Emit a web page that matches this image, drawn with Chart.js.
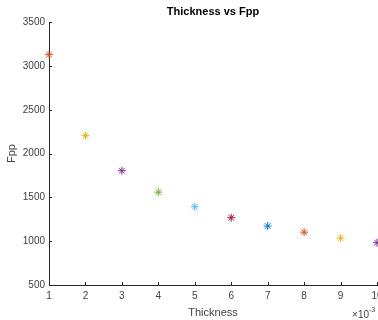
<!DOCTYPE html>
<html>
<head>
<meta charset="utf-8">
<script src="https://cdn.jsdelivr.net/npm/chart.js@4/dist/chart.umd.min.js"></script>
<style>
    body { margin: 0; background: #ffffff; }
    #wrap { width: 378px; height: 320px; }
</style>
</head>
<body>
<div id="wrap"><canvas id="fppChart" width="378" height="320"></canvas></div>
<script>
// Dati (spessore in unità di 1e-3)
const thickness = [1, 2, 3, 4, 5, 6, 7, 8, 9, 10];
const fpp = [3130, 2205, 1805, 1560, 1393, 1268, 1173, 1103, 1035, 983];
const pointColors = [
    '#D95319', '#EDB120', '#7E2F8E', '#77AC30', '#4DBEEE',
    '#A2142F', '#0072BD', '#D95319', '#EDB120', '#7E2F8E'
];
const xTicks = [1, 2, 3, 4, 5, 6, 7, 8, 9, 10];
const yTicks = [500, 1000, 1500, 2000, 2500, 3000, 3500];

const axisColor = '#262626';
const labelColor = '#404040';
const fontFamily = "'Liberation Sans', Arial, sans-serif";

// Tacche verso l'interno e moltiplicatore dell'asse x, stile MATLAB
const matlabAxesPlugin = {
    id: 'matlabAxes',
    afterDraw(chart) {
        const ctx = chart.ctx;
        const xs = chart.scales.x;
        const ys = chart.scales.y;
        const area = chart.chartArea;
        ctx.save();
        ctx.strokeStyle = axisColor;
        ctx.lineWidth = 1;
        ctx.beginPath();
        xTicks.forEach(v => {
            const px = Math.round(xs.getPixelForValue(v)) + 0.5;
            ctx.moveTo(px, area.bottom);
            ctx.lineTo(px, area.bottom - 3);
        });
        yTicks.forEach(v => {
            const py = Math.round(ys.getPixelForValue(v)) + 0.5;
            ctx.moveTo(area.left, py);
            ctx.lineTo(area.left + 3, py);
        });
        ctx.stroke();

        // ×10^-3
        ctx.fillStyle = labelColor;
        ctx.textBaseline = 'middle';
        ctx.textAlign = 'left';
        ctx.font = '10px ' + fontFamily;
        ctx.fillText('\u00d7', 352, 315);
        ctx.fillText('10', 358, 315);
        ctx.font = '7px ' + fontFamily;
        ctx.fillText('-3', 369, 310);
        ctx.restore();
    }
};

const ctx = document.getElementById('fppChart').getContext('2d');

new Chart(ctx, {
    type: 'scatter',
    data: {
        datasets: [{
            label: 'Fpp',
            data: thickness.map((t, i) => ({ x: t, y: fpp[i] })),
            pointStyle: 'star',
            pointRadius: 4,
            pointBorderWidth: 1,
            pointBorderColor: pointColors,
            pointBackgroundColor: pointColors,
            clip: false
        }]
    },
    options: {
        responsive: false,
        animation: false,
        layout: {
            autoPadding: false,
            padding: { left: 0, right: 1, top: 0, bottom: 0 }
        },
        plugins: {
            legend: { display: false },
            tooltip: { enabled: false },
            title: {
                display: true,
                fullSize: false,
                text: 'Thickness vs Fpp',
                color: '#000000',
                font: { family: fontFamily, size: 11, weight: 'bold' },
                padding: { top: 5, bottom: 4 }
            }
        },
        scales: {
            x: {
                type: 'linear',
                min: 1,
                max: 10,
                afterBuildTicks(scale) {
                    scale.ticks = xTicks.map(v => ({ value: v }));
                },
                afterFit(scale) {
                    scale.height = 35;
                    scale.paddingLeft = 0;
                    scale.paddingRight = 0;
                },
                grid: { drawOnChartArea: false, drawTicks: false },
                border: { display: true, color: axisColor, width: 1 },
                ticks: {
                    padding: 5,
                    color: labelColor,
                    font: { family: fontFamily, size: 10 },
                    maxRotation: 0,
                    autoSkip: false,
                    callback: v => String(v)
                },
                title: {
                    display: true,
                    text: 'Thickness',
                    color: labelColor,
                    font: { family: fontFamily, size: 11 },
                    padding: { top: 1.5, bottom: 0 }
                }
            },
            y: {
                type: 'linear',
                min: 500,
                max: 3500,
                afterBuildTicks(scale) {
                    scale.ticks = yTicks.map(v => ({ value: v }));
                },
                afterFit(scale) {
                    scale.width = 49;
                },
                grid: { drawOnChartArea: false, drawTicks: false },
                border: { display: true, color: axisColor, width: 1 },
                ticks: {
                    padding: 4,
                    color: labelColor,
                    font: { family: fontFamily, size: 10 },
                    autoSkip: false,
                    callback: v => String(v)
                },
                title: {
                    display: true,
                    text: 'Fpp',
                    color: labelColor,
                    font: { family: fontFamily, size: 11 },
                    padding: { top: 5, bottom: 0 }
                }
            }
        }
    },
    plugins: [matlabAxesPlugin]
});
</script>
</body>
</html>
